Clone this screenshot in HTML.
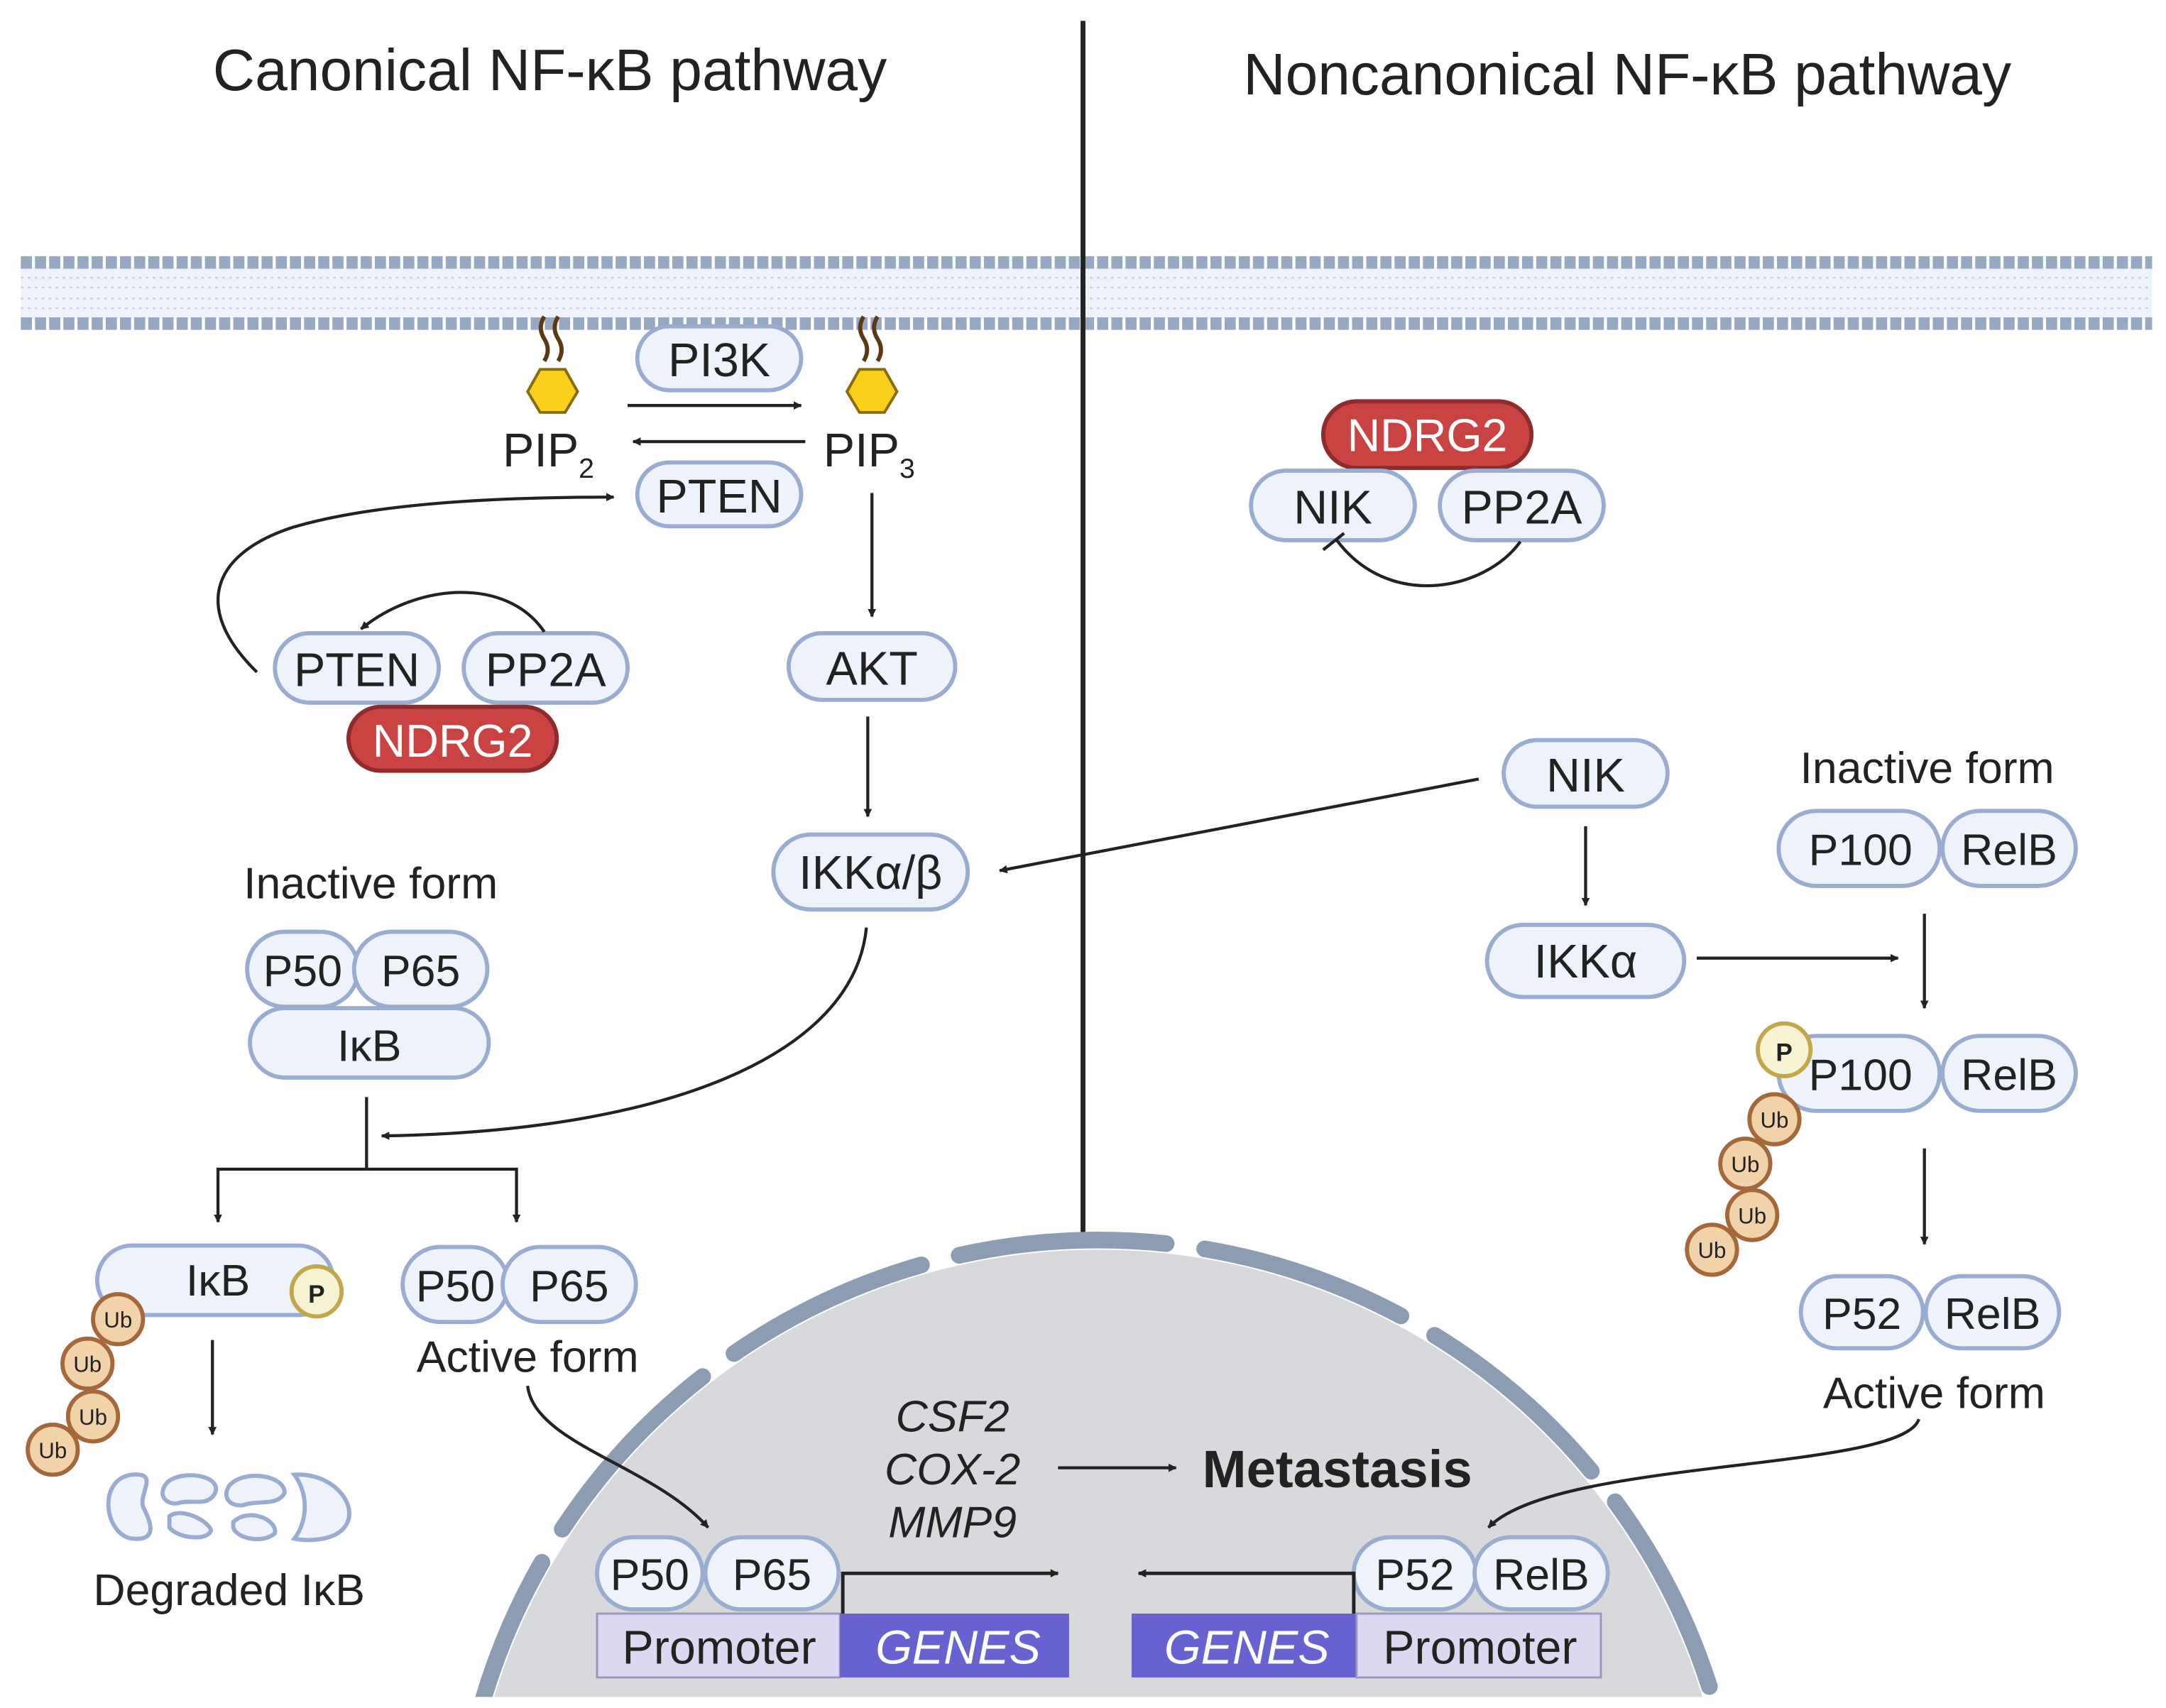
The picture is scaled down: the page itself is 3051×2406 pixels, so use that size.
<!DOCTYPE html>
<html><head><meta charset="utf-8"><style>
html,body{margin:0;padding:0;background:#fff;width:3051px;height:2406px;overflow:hidden}
svg{display:block}
text{font-family:"Liberation Sans","DejaVu Sans",sans-serif;fill:#222}
.pill{fill:#edf2fb;stroke:#9aacd0;stroke-width:3}
.red{fill:#c94343;stroke:#8f2b2b;stroke-width:3}
.ln{stroke:#222;stroke-width:2.2;fill:none}
.ub{fill:#f2d2a8;stroke:#a5683a;stroke-width:3}
</style></head><body>
<svg width="3051" height="2406" viewBox="0 0 1560 1230" preserveAspectRatio="none" xmlns="http://www.w3.org/2000/svg">
<defs>
<marker id="a" viewBox="0 0 10 10" refX="9" refY="5" markerWidth="6" markerHeight="6" orient="auto-start-reverse" markerUnits="userSpaceOnUse"><path d="M0,0 L10,5 L0,10 z" fill="#222"/></marker>
<clipPath id="nc"><rect x="0" y="0" width="1560" height="1222"/></clipPath>
</defs>
<text x="396" y="65" font-size="42" text-anchor="middle">Canonical NF-κB pathway</text>
<text x="1172" y="68" font-size="42" text-anchor="middle">Noncanonical NF-κB pathway</text>
<!-- membrane -->
<rect x="15" y="192" width="1535" height="38" fill="#eef3fb"/>
<g stroke="#c3d1e8" stroke-width="1.2">
<path d="M15,200 H1550 M15,207 H1550 M15,215 H1550 M15,222 H1550" stroke-dasharray="2 3"/>
</g>
<line x1="15" y1="189" x2="1550" y2="189" stroke="#97a8c2" stroke-width="9" stroke-dasharray="8 2.2"/>
<line x1="15" y1="233" x2="1550" y2="233" stroke="#97a8c2" stroke-width="9" stroke-dasharray="8 2.2"/>
<line x1="780" y1="15" x2="780" y2="890" stroke="#222" stroke-width="3.5"/>
<!-- nucleus -->
<g clip-path="url(#nc)">
<circle cx="791" cy="1355" r="455" fill="#d8d9dc"/>
<circle cx="791" cy="1355" r="462" fill="none" stroke="#8c9cb3" stroke-width="12" stroke-linecap="round" stroke-dasharray="150 28" stroke-dashoffset="60"/>
</g>
<rect x="0" y="1224" width="1560" height="10" fill="#fff"/>
<!-- PIP -->
<g>
<path d="M392,228 q-5,8 0,16 q5,8 0,16 M402,228 q-5,8 0,16 q5,8 0,16" stroke="#5a3a12" stroke-width="3" fill="none"/>
<polygon points="389,266 407,266 416,282 407,297 389,297 380,282" fill="#f8d01c" stroke="#8a6a10" stroke-width="2"/>
<path d="M622,228 q-5,8 0,16 q5,8 0,16 M632,228 q-5,8 0,16 q5,8 0,16" stroke="#5a3a12" stroke-width="3" fill="none"/>
<polygon points="619,266 637,266 646,282 637,297 619,297 610,282" fill="#f8d01c" stroke="#8a6a10" stroke-width="2"/>
</g>
<text x="362" y="336" font-size="34">PIP<tspan font-size="20" dy="8">2</tspan></text>
<text x="593" y="336" font-size="34">PIP<tspan font-size="20" dy="8">3</tspan></text>
<rect class="pill" x="459" y="235" width="118" height="46" rx="23"/><text x="518" y="271" font-size="34" text-anchor="middle">PI3K</text>
<rect class="pill" x="459" y="333" width="118" height="46" rx="23"/><text x="518" y="369" font-size="34" text-anchor="middle">PTEN</text>
<line class="ln" x1="452" y1="292" x2="577" y2="292" marker-end="url(#a)"/>
<line class="ln" x1="580" y1="318" x2="456" y2="318" marker-end="url(#a)"/>
<line class="ln" x1="628" y1="355" x2="628" y2="444" marker-end="url(#a)"/>
<rect class="pill" x="568" y="456" width="120" height="48" rx="24"/><text x="628" y="493" font-size="34" text-anchor="middle">AKT</text>
<line class="ln" x1="625" y1="516" x2="625" y2="588" marker-end="url(#a)"/>
<rect class="pill" x="557" y="601" width="140" height="54" rx="27"/><text x="627" y="640" font-size="34" text-anchor="middle">IKKα/β</text>
<!-- PTEN PP2A NDRG2 -->
<rect class="pill" x="198" y="456" width="118" height="50" rx="25"/><text x="257" y="494" font-size="34" text-anchor="middle">PTEN</text>
<rect class="pill" x="334" y="456" width="118" height="50" rx="25"/><text x="393" y="494" font-size="34" text-anchor="middle">PP2A</text>
<rect class="red" x="251" y="509" width="150" height="46" rx="23"/><text x="326" y="545" font-size="33" text-anchor="middle" style="fill:#fff">NDRG2</text>
<path class="ln" d="M392,455 C365,415 300,420 260,453" marker-end="url(#a)"/>
<path class="ln" d="M185,484 C140,440 150,400 210,380 C270,362 360,358 442,358" marker-end="url(#a)"/>
<!-- inactive canonical -->
<text x="267" y="647" font-size="32" text-anchor="middle">Inactive form</text>
<rect class="pill" x="180" y="726" width="172" height="50" rx="25"/><text x="266" y="764" font-size="32" text-anchor="middle">IκB</text>
<rect class="pill" x="178" y="671" width="80" height="54" rx="27"/><text x="218" y="710" font-size="32" text-anchor="middle">P50</text>
<rect class="pill" x="255" y="671" width="96" height="54" rx="27"/><text x="303" y="710" font-size="32" text-anchor="middle">P65</text>
<line class="ln" x1="264" y1="790" x2="264" y2="842"/>
<path class="ln" d="M624,668 C615,760 480,815 275,818" marker-end="url(#a)"/>
<path class="ln" d="M157,880 V842 H372 V880" marker-start="url(#a)" marker-end="url(#a)"/>
<!-- IkB degraded -->
<rect class="pill" x="70" y="897" width="170" height="50" rx="25"/><text x="157" y="933" font-size="32" text-anchor="middle">IκB</text>
<circle cx="228" cy="930" r="18" fill="#f7f3d2" stroke="#c2a84a" stroke-width="3"/><text x="228" y="938" font-size="18" font-weight="bold" text-anchor="middle">P</text>
<circle class="ub" cx="38" cy="1044" r="18"/><text x="38" y="1050" text-anchor="middle" font-size="16">Ub</text>
<circle class="ub" cx="67" cy="1020" r="18"/><text x="67" y="1026" text-anchor="middle" font-size="16">Ub</text>
<circle class="ub" cx="63" cy="982" r="18"/><text x="63" y="988" text-anchor="middle" font-size="16">Ub</text>
<circle class="ub" cx="85" cy="950" r="18"/><text x="85" y="956" text-anchor="middle" font-size="16">Ub</text>
<line class="ln" x1="153" y1="965" x2="153" y2="1033" marker-end="url(#a)"/>
<g class="pill">
<path d="M95,1062 C70,1065 75,1105 95,1108 C115,1110 108,1095 103,1085 C100,1075 115,1060 95,1062z"/>
<path d="M120,1068 C130,1058 160,1062 155,1075 C150,1085 140,1080 130,1082 C122,1085 112,1078 120,1068z"/>
<path d="M122,1092 C130,1085 150,1095 152,1102 C150,1110 128,1108 122,1100z"/>
<path d="M165,1070 C175,1058 205,1062 205,1075 C200,1085 185,1080 175,1084 C165,1085 160,1078 165,1070z"/>
<path d="M168,1096 C180,1085 200,1095 198,1104 C190,1112 170,1108 168,1100z"/>
<path d="M212,1062 C240,1060 260,1085 248,1100 C240,1110 220,1110 212,1108 C222,1095 222,1075 212,1062z"/>
</g>
<text x="165" y="1156" font-size="32" text-anchor="middle">Degraded IκB</text>
<!-- active canonical -->
<rect class="pill" x="290" y="898" width="76" height="54" rx="27"/><text x="328" y="937" font-size="32" text-anchor="middle">P50</text>
<rect class="pill" x="362" y="898" width="96" height="54" rx="27"/><text x="410" y="937" font-size="32" text-anchor="middle">P65</text>
<text x="380" y="988" font-size="32" text-anchor="middle">Active form</text>
<path class="ln" d="M380,998 C385,1040 470,1055 510,1100" marker-end="url(#a)"/>
<!-- nucleus content -->
<g font-style="italic" font-size="32" text-anchor="middle">
<text x="686" y="1031">CSF2</text><text x="686" y="1069">COX-2</text><text x="686" y="1107">MMP9</text>
</g>
<line class="ln" x1="762" y1="1057" x2="847" y2="1057" marker-end="url(#a)"/>
<text x="866" y="1071" font-size="38" font-weight="bold">Metastasis</text>
<rect x="430" y="1162" width="175" height="46" fill="#dcd8f2" stroke="#9a96c0" stroke-width="1.5"/>
<text x="518" y="1198" font-size="34" text-anchor="middle">Promoter</text>
<rect x="605" y="1162" width="165" height="46" fill="#6762d0"/>
<text x="690" y="1198" font-size="34" font-style="italic" text-anchor="middle" style="fill:#fff">GENES</text>
<rect class="pill" x="430" y="1107" width="76" height="52" rx="26"/><text x="468" y="1145" font-size="32" text-anchor="middle">P50</text>
<rect class="pill" x="508" y="1107" width="96" height="52" rx="26"/><text x="556" y="1145" font-size="32" text-anchor="middle">P65</text>
<path d="M607,1162 V1133 H762" stroke="#222" stroke-width="2.5" fill="none" marker-end="url(#a)"/>
<rect x="815" y="1162" width="162" height="46" fill="#6762d0"/>
<text x="898" y="1198" font-size="34" font-style="italic" text-anchor="middle" style="fill:#fff">GENES</text>
<rect x="977" y="1162" width="176" height="46" fill="#dcd8f2" stroke="#9a96c0" stroke-width="1.5"/>
<text x="1066" y="1198" font-size="34" text-anchor="middle">Promoter</text>
<rect class="pill" x="975" y="1107" width="88" height="52" rx="26"/><text x="1019" y="1145" font-size="32" text-anchor="middle">P52</text>
<rect class="pill" x="1062" y="1107" width="96" height="52" rx="26"/><text x="1110" y="1145" font-size="32" text-anchor="middle">RelB</text>
<path d="M975,1162 V1133 H820" stroke="#222" stroke-width="2.5" fill="none" marker-end="url(#a)"/>
<!-- noncanonical -->
<rect class="red" x="953" y="289" width="150" height="48" rx="24"/><text x="1028" y="325" font-size="33" text-anchor="middle" style="fill:#fff">NDRG2</text>
<rect class="pill" x="901" y="339" width="118" height="50" rx="25"/><text x="960" y="377" font-size="34" text-anchor="middle">NIK</text>
<rect class="pill" x="1037" y="339" width="118" height="50" rx="25"/><text x="1096" y="377" font-size="34" text-anchor="middle">PP2A</text>
<path class="ln" d="M1095,390 C1070,425 1000,440 962,388"/>
<line class="ln" x1="953" y1="396" x2="968" y2="384"/>
<rect class="pill" x="1083" y="533" width="118" height="48" rx="24"/><text x="1142" y="570" font-size="34" text-anchor="middle">NIK</text>
<line class="ln" x1="1065" y1="561" x2="720" y2="627" marker-end="url(#a)"/>
<line class="ln" x1="1142" y1="595" x2="1142" y2="652" marker-end="url(#a)"/>
<rect class="pill" x="1071" y="666" width="142" height="52" rx="26"/><text x="1142" y="704" font-size="34" text-anchor="middle">IKKα</text>
<line class="ln" x1="1222" y1="690" x2="1367" y2="690" marker-end="url(#a)"/>
<text x="1388" y="564" font-size="32" text-anchor="middle">Inactive form</text>
<rect class="pill" x="1281" y="584" width="116" height="54" rx="27"/><text x="1340" y="623" font-size="32" text-anchor="middle">P100</text>
<rect class="pill" x="1399" y="584" width="96" height="54" rx="27"/><text x="1447" y="623" font-size="32" text-anchor="middle">RelB</text>
<line class="ln" x1="1386" y1="658" x2="1386" y2="726" marker-end="url(#a)"/>
<rect class="pill" x="1281" y="746" width="116" height="54" rx="27"/><text x="1340" y="785" font-size="32" text-anchor="middle">P100</text>
<rect class="pill" x="1399" y="746" width="96" height="54" rx="27"/><text x="1447" y="785" font-size="32" text-anchor="middle">RelB</text>
<circle cx="1285" cy="756" r="19" fill="#f7f3d2" stroke="#c2a84a" stroke-width="3"/><text x="1285" y="764" font-size="18" font-weight="bold" text-anchor="middle">P</text>
<circle class="ub" cx="1233" cy="900" r="18"/><text x="1233" y="906" text-anchor="middle" font-size="16">Ub</text>
<circle class="ub" cx="1262" cy="875" r="18"/><text x="1262" y="881" text-anchor="middle" font-size="16">Ub</text>
<circle class="ub" cx="1257" cy="838" r="18"/><text x="1257" y="844" text-anchor="middle" font-size="16">Ub</text>
<circle class="ub" cx="1278" cy="806" r="18"/><text x="1278" y="812" text-anchor="middle" font-size="16">Ub</text>
<line class="ln" x1="1386" y1="827" x2="1386" y2="896" marker-end="url(#a)"/>
<rect class="pill" x="1297" y="919" width="88" height="52" rx="26"/><text x="1341" y="957" font-size="32" text-anchor="middle">P52</text>
<rect class="pill" x="1387" y="919" width="96" height="52" rx="26"/><text x="1435" y="957" font-size="32" text-anchor="middle">RelB</text>
<text x="1393" y="1014" font-size="32" text-anchor="middle">Active form</text>
<path class="ln" d="M1382,1022 C1370,1060 1120,1050 1072,1100" marker-end="url(#a)"/>
</svg>
</body></html>
